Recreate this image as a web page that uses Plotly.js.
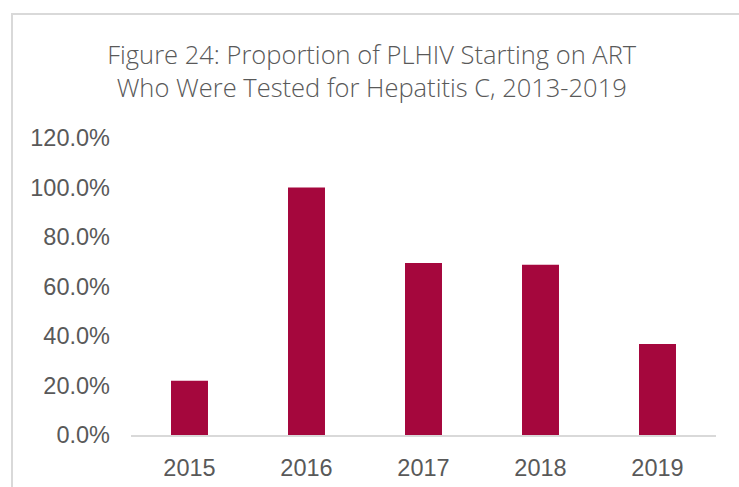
<!DOCTYPE html>
<html>
<head>
<meta charset="utf-8">
<script src="https://cdn.plot.ly/plotly-3.0.1.min.js"></script>
<style>
  html, body { margin: 0; padding: 0; background: #ffffff; }
  #wrap { position: relative; width: 739px; height: 487px; overflow: hidden; }
  #frame { position: absolute; left: 11px; top: 13px; width: 800px; height: 600px;
           border-left: 2px solid #d9d9d9; border-top: 2px solid #d9d9d9; }
  #chart { position: absolute; left: 0; top: 0; width: 739px; height: 487px; }
</style>
</head>
<body>
<div id="wrap">
  <div id="frame"></div>
  <div id="chart"></div>
</div>
<script>
const years = ["2015", "2016", "2017", "2018", "2019"];
const percentTested = [21.9, 100.0, 69.5, 68.8, 36.8];
const yTicks = [0, 20, 40, 60, 80, 100, 120];
const titleText = "Figure 24: Proportion of PLHIV Starting on ART<br>Who Were Tested for Hepatitis C, 2013-2019";

const trace = {
  type: "bar",
  x: years,
  y: percentTested,
  marker: { color: "#A5073D" },
  hoverinfo: "x+y"
};

const layout = {
  width: 739,
  height: 487,
  paper_bgcolor: "rgba(0,0,0,0)",
  plot_bgcolor: "rgba(0,0,0,0)",
  margin: { l: 131, r: 23, t: 138, b: 52 },
  bargap: 0.684,
  showlegend: false,
  title: {
    text: titleText,
    font: { family: "Open Sans", size: 25.5, color: "#595959", weight: 300 },
    xref: "container", x: 0.503, xanchor: "center",
    yref: "container", y: 1 - 64 / 487, yanchor: "middle"
  },
  xaxis: {
    type: "category",
    showline: true, linecolor: "#d9d9d9", linewidth: 2,
    showgrid: false, zeroline: false, ticks: "",
    ticklabelstandoff: 11,
    tickfont: { family: "Liberation Sans, Arial", size: 23.5, color: "#595959" }
  },
  yaxis: {
    range: [0, 120],
    tickvals: yTicks,
    ticktext: yTicks.map(v => v.toFixed(1) + "%"),
    showline: false, showgrid: false, zeroline: false, ticks: "",
    ticklabelstandoff: 20,
    tickfont: { family: "Liberation Sans, Arial", size: 23.5, color: "#595959" }
  }
};

Plotly.newPlot("chart", [trace], layout, { displayModeBar: false, staticPlot: true });
</script>
</body>
</html>
